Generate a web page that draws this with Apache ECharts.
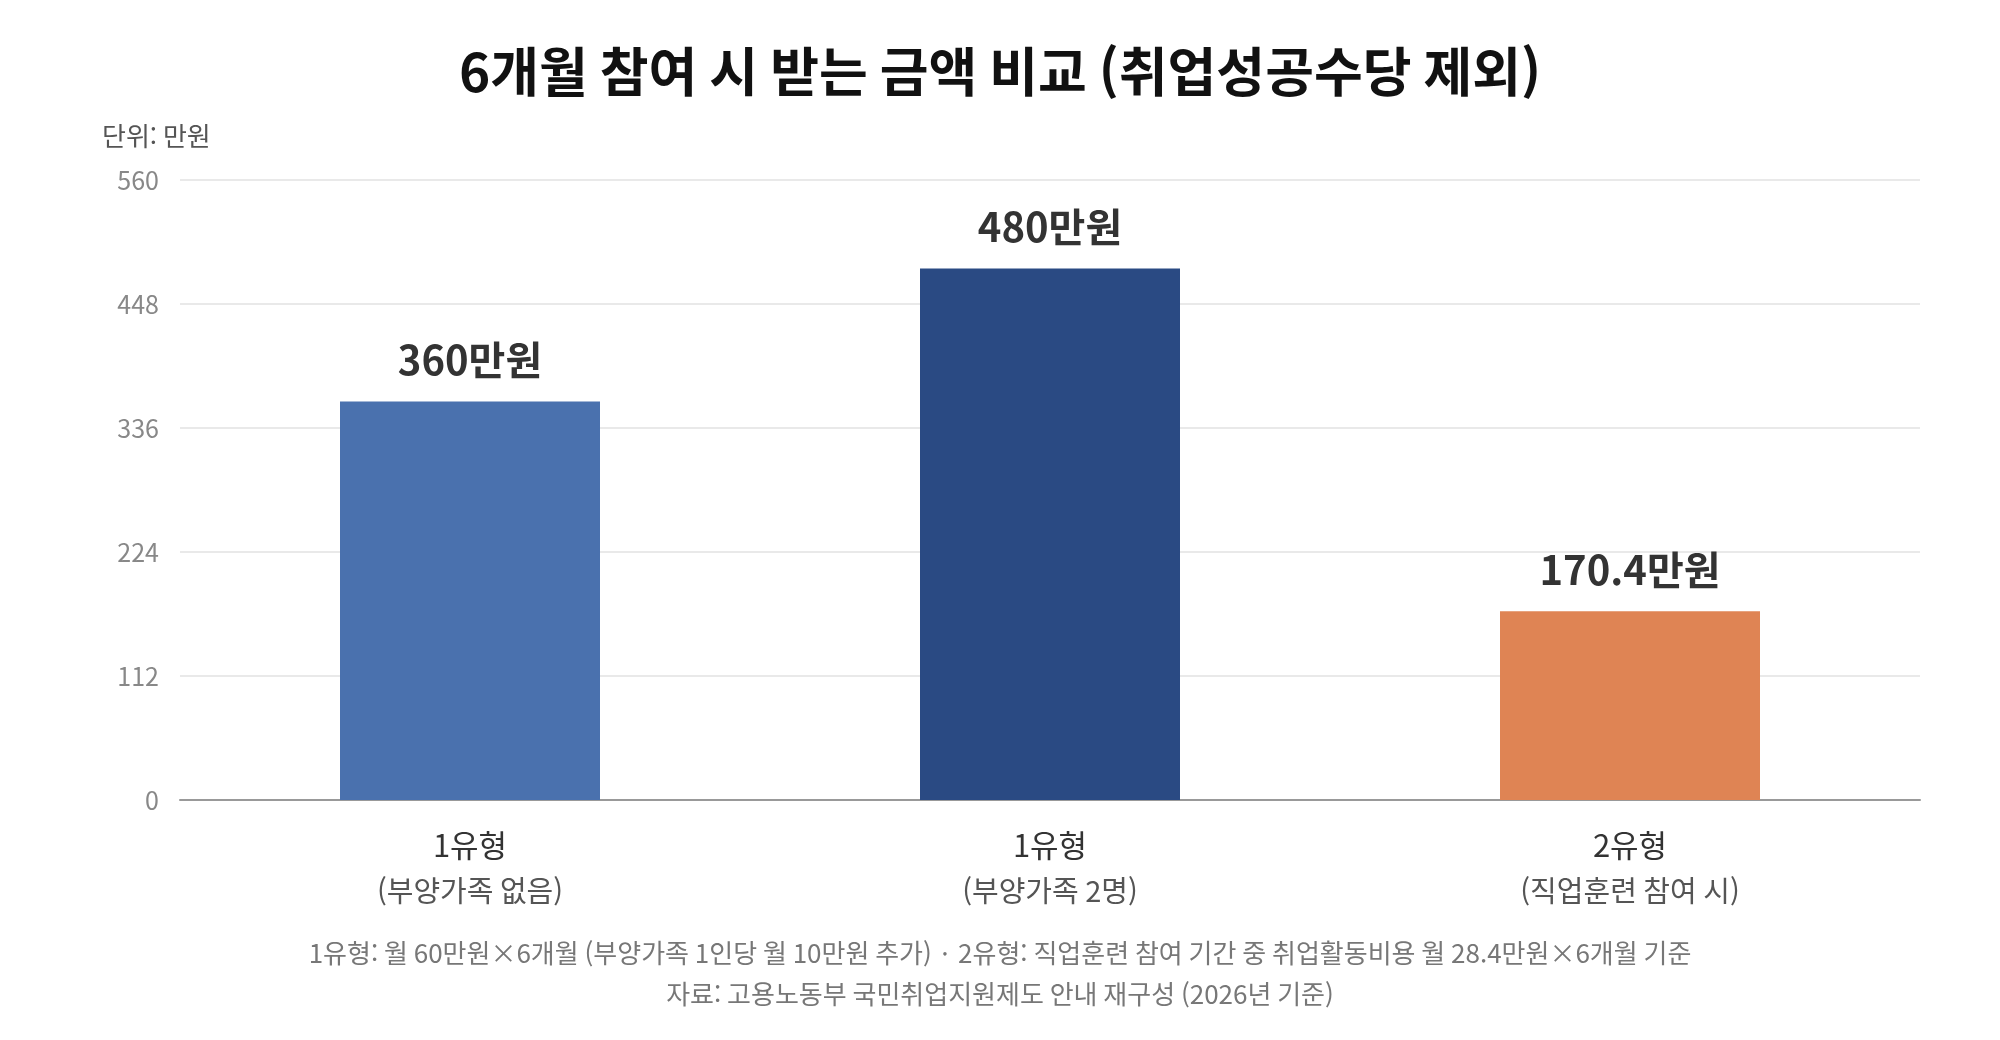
<!DOCTYPE html>
<html lang="ko">
<head>
<meta charset="utf-8">
<title>6개월 참여 시 받는 금액 비교</title>
<script src="https://cdn.jsdelivr.net/npm/echarts@6/dist/echarts.min.js"></script>
<style>
  html, body { margin: 0; padding: 0; background: #fff; }
  #chart { width: 2000px; height: 1040px; }
</style>
</head>
<body>
<div id="chart"></div>
<script>
const FONT = "'Noto Sans CJK KR', 'Noto Sans', sans-serif";

// data
const typeNames = ['1유형', '1유형', '2유형'];
const typeNotes = ['(부양가족 없음)', '(부양가족 2명)', '(직업훈련 참여 시)'];
const amounts = [360, 480, 170.4];
const barColors = ['#4a71ae', '#2a4a83', '#df8454'];
const yTicks = [0, 112, 224, 336, 448, 560];

const footLines = [
  '1유형: 월 60만원×6개월 (부양가족 1인당 월 10만원 추가) · 2유형: 직업훈련 참여 기간 중 취업활동비용 월 28.4만원×6개월 기준',
  '자료: 고용노동부 국민취업지원제도 안내 재구성 (2026년 기준)'
];

const chart = echarts.init(document.getElementById('chart'));

const footStyle = { fontSize: 26, fontWeight: 'normal', color: '#777', fontFamily: FONT };

chart.setOption({
  backgroundColor: '#fff',
  textStyle: { fontFamily: FONT },
  title: [
    {
      text: '6개월 참여 시 받는 금액 비교 (취업성공수당 제외)',
      left: 'center',
      top: 40,
      textStyle: { fontSize: 53, fontWeight: 'bold', color: '#111', fontFamily: FONT }
    },
    {
      text: '단위: 만원',
      left: 97,
      top: 118,
      textStyle: { fontSize: 26, fontWeight: 'normal', color: '#555', fontFamily: FONT }
    },
    { text: footLines[0], left: 'center', top: 935, textStyle: footStyle },
    { text: footLines[1], left: 'center', top: 976, textStyle: footStyle }
  ],
  grid: { left: 180, right: 80, top: 180, bottom: 240 },
  xAxis: {
    type: 'category',
    data: typeNames.map((n, i) => n + '\n' + typeNotes[i]),
    axisTick: { show: false },
    axisLine: { lineStyle: { color: '#999', width: 2 } },
    axisLabel: {
      margin: 22,
      interval: 0,
      formatter: (v) => {
        const [a, b] = v.split('\n');
        return '{a|' + a + '}\n{b|' + b + '}';
      },
      rich: {
        a: { fontSize: 31, color: '#333', lineHeight: 46, fontFamily: FONT },
        b: { fontSize: 29, color: '#555', lineHeight: 46, fontFamily: FONT }
      }
    }
  },
  yAxis: {
    type: 'value',
    min: yTicks[0],
    max: yTicks[yTicks.length - 1],
    interval: yTicks[1] - yTicks[0],
    axisLine: { show: false },
    axisTick: { show: false },
    axisLabel: { fontSize: 25, color: '#888', margin: 21, fontFamily: FONT },
    splitLine: { lineStyle: { color: '#e2e2e2', width: 1.5 } }
  },
  series: [
    {
      type: 'bar',
      barWidth: 260,
      data: amounts.map((v, i) => ({ value: v, itemStyle: { color: barColors[i] } })),
      label: {
        show: true,
        position: 'top',
        distance: 22,
        formatter: (p) => p.value + '만원',
        fontSize: 40,
        fontWeight: 'bold',
        color: '#333',
        fontFamily: FONT
      }
    }
  ]
});
</script>
</body>
</html>
